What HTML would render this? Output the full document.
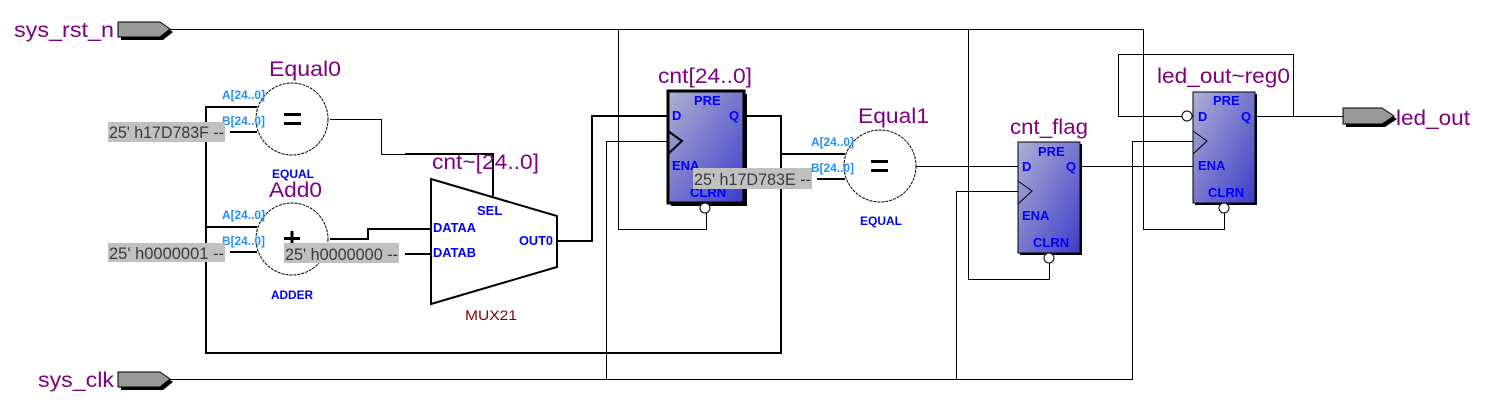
<!DOCTYPE html>
<html><head><meta charset="utf-8"><style>
html,body{margin:0;padding:0;background:#fff;}
svg{display:block;}
.big{font-family:"Liberation Sans",sans-serif;font-size:21px;fill:#800080;}
.pin{font-family:"Liberation Sans",sans-serif;font-size:13px;font-weight:bold;fill:#0000ff;}
.port{font-family:"Liberation Sans",sans-serif;font-size:12px;font-weight:bold;fill:#1e90ff;}
.typ{font-family:"Liberation Sans",sans-serif;font-size:12px;font-weight:bold;fill:#0000ff;}
.cst{font-family:"Liberation Sans",sans-serif;font-size:17px;fill:#3a3a3a;}
.w1{stroke:#000;stroke-width:1;fill:none;}
.w2{stroke:#000;stroke-width:2;fill:none;}
</style></head><body>
<svg width="1499" height="412" viewBox="0 0 1499 412" xmlns="http://www.w3.org/2000/svg">
<defs>
<linearGradient id="g" x1="0" y1="0" x2="1" y2="1">
<stop offset="0" stop-color="#b0b0d4"/><stop offset="1" stop-color="#3c3cc8"/>
</linearGradient>
</defs>

<polyline class="w1" points="170,29.5 1143.5,29.5 1143.5,229.5 1224.5,229.5 1224.5,213"/>
<polyline class="w1" points="618.5,29.5 618.5,229.5 706.5,229.5 706.5,213"/>
<polyline class="w1" points="968.5,29.5 968.5,279.5 1049.5,279.5 1049.5,263"/>
<polyline class="w1" points="170,379.5 1132.5,379.5 1132.5,141.5 1193,141.5"/>
<polyline class="w1" points="606.5,379.5 606.5,141.5 668,141.5"/>
<polyline class="w1" points="956.5,379.5 956.5,191.5 1018,191.5"/>

<polygon points="121,25 163,25 173,32 163,40 121,40" fill="#000"/>
<polygon points="118,22 160,22 170,29 160,37 118,37" fill="#999" stroke="#000" stroke-width="1"/>
<text class="big" x="14" y="37" textLength="100" lengthAdjust="spacingAndGlyphs">sys_rst_n</text>
<polygon points="121,375 163,375 173,382 163,390 121,390" fill="#000"/>
<polygon points="118,372 160,372 170,379 160,387 118,387" fill="#999" stroke="#000" stroke-width="1"/>
<text class="big" x="38" y="387" textLength="76" lengthAdjust="spacingAndGlyphs">sys_clk</text>

<polyline class="w2" points="746,116 781,116 781,353 206,353 206,107 257,107"/>
<line class="w2" x1="206" y1="227" x2="257" y2="227"/>
<line class="w2" x1="781" y1="154" x2="845" y2="154"/>
<line class="w2" x1="230" y1="132" x2="257" y2="132"/>
<line class="w2" x1="230" y1="252" x2="257" y2="252"/>

<circle cx="292" cy="119" r="36" fill="#fff" stroke="#000" stroke-width="1" stroke-dasharray="3,1"/>
<rect x="284" y="113" width="17" height="3" fill="#000"/><rect x="284" y="122" width="17" height="3" fill="#000"/>
<text class="big" x="269" y="76" textLength="72" lengthAdjust="spacingAndGlyphs">Equal0</text>
<text class="typ" x="272" y="178" textLength="42" lengthAdjust="spacingAndGlyphs">EQUAL</text>
<text class="port" x="222" y="99" textLength="43" lengthAdjust="spacingAndGlyphs">A[24..0]</text>
<text class="port" x="222" y="125" textLength="43" lengthAdjust="spacingAndGlyphs">B[24..0]</text>
<rect x="108" y="122" width="117" height="20" fill="#c0c0c0"/>
<text class="cst" x="109" y="138" textLength="115" lengthAdjust="spacingAndGlyphs">25' h17D783F --</text>
<polyline class="w1" points="330,119.5 381.5,119.5 381.5,154.5 405,154.5"/>
<polyline class="w2" points="405,154 493,154 493,196"/>

<circle cx="292" cy="239" r="36" fill="#fff" stroke="#000" stroke-width="1" stroke-dasharray="3,1"/>
<rect x="284" y="237" width="16" height="3" fill="#000"/><rect x="290.5" y="231" width="3" height="14" fill="#000"/>
<text class="big" x="269" y="197" textLength="53" lengthAdjust="spacingAndGlyphs">Add0</text>
<text class="typ" x="271" y="299" textLength="42" lengthAdjust="spacingAndGlyphs">ADDER</text>
<text class="port" x="222" y="219" textLength="43" lengthAdjust="spacingAndGlyphs">A[24..0]</text>
<text class="port" x="222" y="245" textLength="43" lengthAdjust="spacingAndGlyphs">B[24..0]</text>
<rect x="108" y="243" width="117" height="19" fill="#c0c0c0"/>
<text class="cst" x="109" y="259" textLength="115" lengthAdjust="spacingAndGlyphs">25' h0000001 --</text>
<polyline class="w2" points="330,239 368,239 368,229 431,229"/>
<rect x="284" y="243" width="115" height="20" fill="#c0c0c0"/>
<text class="cst" x="285" y="260" textLength="113" lengthAdjust="spacingAndGlyphs">25' h0000000 --</text>
<line class="w2" x1="405" y1="254" x2="431" y2="254"/>

<polygon points="431,179 557,216 557,267 431,304" fill="#fff" stroke="#000" stroke-width="2"/>
<text class="pin" x="477" y="215" font-size="12">SEL</text>
<text class="pin" x="433" y="232" font-size="12" textLength="43" lengthAdjust="spacingAndGlyphs">DATAA</text>
<text class="pin" x="433" y="257" font-size="12" textLength="43" lengthAdjust="spacingAndGlyphs">DATAB</text>
<text class="pin" x="519" y="245" font-size="12" textLength="34" lengthAdjust="spacingAndGlyphs">OUT0</text>
<text x="465" y="320" font-family="Liberation Sans,sans-serif" font-size="14" fill="#800000" textLength="52" lengthAdjust="spacingAndGlyphs">MUX21</text>
<text class="big" x="432" y="169" textLength="107" lengthAdjust="spacingAndGlyphs">cnt~[24..0]</text>
<polyline class="w2" points="557,241 592,241 592,116 668,116"/>

<rect x="671" y="94" width="76" height="112" fill="#000"/>
<rect x="668" y="91" width="76" height="112" fill="url(#g)" stroke="#000" stroke-width="3"/>
<text class="pin" x="694" y="105">PRE</text>
<text class="pin" x="672" y="120">D</text>
<text class="pin" x="729" y="120">Q</text>
<text class="pin" x="672" y="170">ENA</text>
<text class="pin" x="690" y="197">CLRN</text>
<polyline class="w2" points="668,131 682,141 668,154"/>
<circle cx="705" cy="208" r="5" fill="#fff" stroke="#000" stroke-width="1"/>
<text class="big" x="658" y="83" textLength="94" lengthAdjust="spacingAndGlyphs">cnt[24..0]</text>
<rect x="693" y="168" width="119" height="21" fill="#c0c0c0"/>
<text class="cst" x="694" y="185" textLength="117" lengthAdjust="spacingAndGlyphs">25' h17D783E --</text>
<line class="w2" x1="817" y1="179" x2="845" y2="179"/>

<circle cx="880" cy="166" r="36" fill="#fff" stroke="#000" stroke-width="1" stroke-dasharray="3,1"/>
<rect x="871" y="160" width="17" height="3" fill="#000"/><rect x="871" y="169" width="17" height="3" fill="#000"/>
<text class="big" x="858" y="123" textLength="71" lengthAdjust="spacingAndGlyphs">Equal1</text>
<text class="typ" x="860" y="225" textLength="42" lengthAdjust="spacingAndGlyphs">EQUAL</text>
<text class="port" x="811" y="146" textLength="43" lengthAdjust="spacingAndGlyphs">A[24..0]</text>
<text class="port" x="811" y="172" textLength="43" lengthAdjust="spacingAndGlyphs">B[24..0]</text>
<line class="w1" x1="916" y1="166.5" x2="1018" y2="166.5"/>

<rect x="1020" y="144" width="62" height="111" fill="#000"/>
<rect x="1018" y="142" width="62" height="111" fill="url(#g)" stroke="#000" stroke-width="1"/>
<text class="pin" x="1038" y="156">PRE</text>
<text class="pin" x="1022" y="171">D</text>
<text class="pin" x="1066" y="171">Q</text>
<text class="pin" x="1022" y="220">ENA</text>
<text class="pin" x="1033" y="247">CLRN</text>
<polyline class="w1" points="1018,181 1032,191 1018,204"/>
<circle cx="1049" cy="258" r="5" fill="#fff" stroke="#000" stroke-width="1"/>
<text class="big" x="1010" y="134" textLength="78" lengthAdjust="spacingAndGlyphs">cnt_flag</text>
<line class="w1" x1="1080" y1="166.5" x2="1193" y2="166.5"/>

<polyline class="w1" points="1255,116.5 1293.5,116.5 1293.5,54.5 1118.5,54.5 1118.5,116.5 1182,116.5"/>
<rect x="1195" y="94" width="62" height="111" fill="#000"/>
<rect x="1193" y="92" width="62" height="111" fill="url(#g)" stroke="#000" stroke-width="1"/>
<text class="pin" x="1213" y="105">PRE</text>
<text class="pin" x="1198" y="121">D</text>
<text class="pin" x="1241" y="121">Q</text>
<text class="pin" x="1198" y="170">ENA</text>
<text class="pin" x="1208" y="197">CLRN</text>
<polyline class="w1" points="1193,131 1207,141 1193,154"/>
<circle cx="1187" cy="116" r="5" fill="#fff" stroke="#000" stroke-width="1"/>
<circle cx="1224" cy="208" r="5" fill="#fff" stroke="#000" stroke-width="1"/>
<text class="big" x="1157" y="83" textLength="133" lengthAdjust="spacingAndGlyphs">led_out~reg0</text>
<line class="w1" x1="1255" y1="116.5" x2="1343" y2="116.5"/>

<polygon points="1346,111 1385,111 1397,119 1385,127 1346,127" fill="#000"/>
<polygon points="1343,108 1382,108 1394,116 1382,124 1343,124" fill="#999" stroke="#000" stroke-width="1"/>
<text class="big" x="1396" y="125" textLength="74" lengthAdjust="spacingAndGlyphs">led_out</text>
</svg>
</body></html>
